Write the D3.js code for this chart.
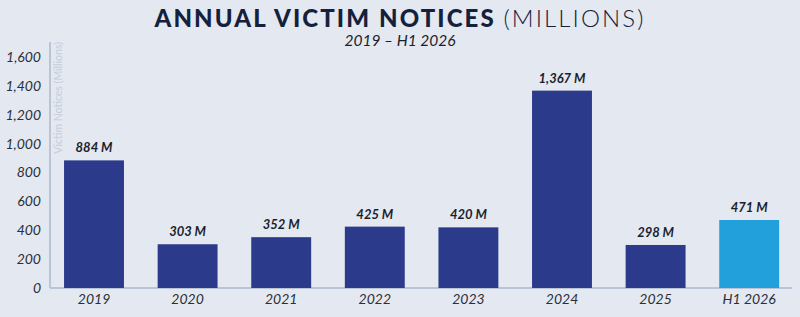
<!DOCTYPE html>
<html><head><meta charset="utf-8">
<script src="https://cdn.jsdelivr.net/npm/d3@7"></script>
<style>
html,body{margin:0;padding:0;background:#e4e8f0;}
svg{display:block;font-family:Lato,"Open Sans",sans-serif;}
</style></head>
<body><svg id="c" width="800" height="317"></svg>
<script>
const categories = ["2019","2020","2021","2022","2023","2024","2025","H1 2026"];
const values = [884, 303, 352, 425, 420, 1367, 298, 471];
const valueLabels = ["884 M","303 M","352 M","425 M","420 M","1,367 M","298 M","471 M"];
const yTicks = [0,200,400,600,800,1000,1200,1400,1600];
const highlight = ["H1 2026"];

const svg = d3.select("#c");
svg.append("rect").attr("width",800).attr("height",317).attr("fill","#e4e8f0");

const x = d3.scaleBand().domain(categories).range([47.2,796]).paddingInner(0.36).paddingOuter(0.18);
const y = d3.scaleLinear().domain([0,1600]).range([288,57]);

// title
const t = svg.append("text").attr("x",400).attr("y",27).attr("text-anchor","middle")
  .attr("fill","#14213d").style("font-size","24px").style("letter-spacing","2.1px");
t.append("tspan").attr("font-weight",900).text("ANNUAL VICTIM NOTICES ");
t.append("tspan").attr("font-weight",300).text("(MILLIONS)");
svg.append("text").attr("x",400).attr("y",46).attr("text-anchor","middle")
  .attr("fill","#1a1f2e").style("font-size","15.5px").style("font-style","italic").text("2019 – H1 2026");

// axes lines
svg.append("line").attr("x1",50).attr("x2",50).attr("y1",42).attr("y2",288).attr("stroke","#b9c4d6").attr("stroke-width",2);
svg.append("line").attr("x1",50).attr("x2",792).attr("y1",288).attr("y2",288).attr("stroke","#b9c4d6").attr("stroke-width",2);

// y axis labels
const yAxis = d3.axisLeft(y).tickValues(yTicks).tickSize(0).tickPadding(0).tickFormat(d3.format(","));
const ya = svg.append("g").attr("transform","translate(41,0)").call(yAxis);
ya.select(".domain").remove();
ya.selectAll("text").attr("fill","#2a2f3a").style("font-size","14px").style("font-style","italic").style("font-family","Lato,sans-serif");

// y axis title
svg.append("text").attr("transform","translate(62,42) rotate(-90)").attr("text-anchor","end")
  .attr("fill","#c3cddc").style("font-size","10.5px").text("Victim Notices (Millions)");

// x axis labels
const xAxis = d3.axisBottom(x).tickSize(0).tickPadding(0);
const xa = svg.append("g").attr("transform","translate(0,294)").call(xAxis);
xa.select(".domain").remove();
xa.selectAll("text").attr("fill","#2a2f3a").style("font-size","14px").style("font-style","italic").style("font-family","Lato,sans-serif").attr("dy","0.71em");

// bars
svg.selectAll("rect.bar").data(categories).join("rect").attr("class","bar")
  .attr("x",d=>x(d)).attr("width",x.bandwidth())
  .attr("y",(d,i)=>y(values[i])).attr("height",(d,i)=>y(0)-y(values[i]))
  .attr("fill",d=>highlight.includes(d)?"#21a0db":"#2b3a8a");

// value labels
svg.selectAll("text.val").data(categories).join("text").attr("class","val")
  .attr("x",d=>x(d)+x.bandwidth()/2).attr("y",(d,i)=>y(values[i])-8)
  .attr("text-anchor","middle").attr("fill","#1a1f2e")
  .style("font-size","13px").style("font-weight","bold").style("font-style","italic")
  .text((d,i)=>valueLabels[i]);
</script></body></html>
